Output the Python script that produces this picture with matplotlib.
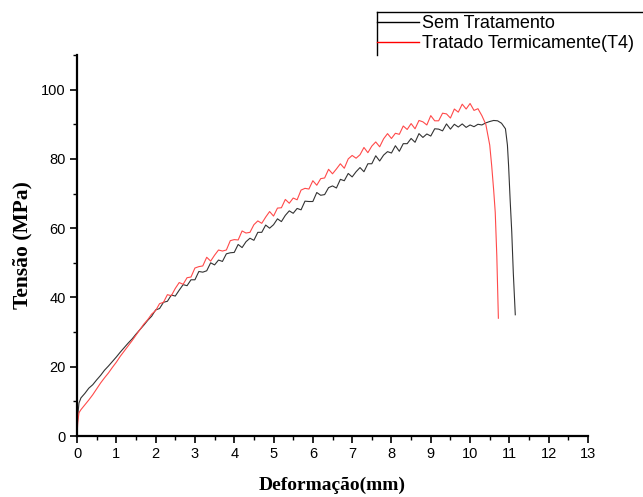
import matplotlib
matplotlib.use("Agg")
import matplotlib.pyplot as plt
from matplotlib.lines import Line2D
from matplotlib.ticker import MultipleLocator

# Sem Tratamento (black)
x_sem = [0, 0.02, 0.05, 0.1, 0.2, 0.3, 0.4, 0.5, 0.6, 0.7, 0.8, 0.9, 1.0, 1.1, 1.2, 1.3, 1.4, 1.5,
         1.6, 1.7, 1.8, 1.9,
         2.0, 2.1, 2.2, 2.3, 2.4, 2.5, 2.6, 2.7, 2.8, 2.9, 3.0, 3.1, 3.2, 3.3, 3.4, 3.5, 3.6, 3.7,
         3.8, 3.9, 4.0, 4.1, 4.2, 4.3, 4.4, 4.5, 4.6, 4.7, 4.8, 4.9, 5.0, 5.1, 5.2, 5.3, 5.4, 5.5,
         5.6, 5.7, 5.8, 5.9, 6.0, 6.1, 6.2, 6.3, 6.4, 6.5, 6.6, 6.7, 6.8, 6.9, 7.0, 7.1, 7.2, 7.3,
         7.4, 7.5, 7.6, 7.7, 7.8, 7.9, 8.0, 8.1, 8.2, 8.3, 8.4, 8.5, 8.6, 8.7, 8.8, 8.9, 9.0, 9.1,
         9.2, 9.3, 9.4, 9.5, 9.6, 9.7, 9.8, 9.9, 10.0, 10.1, 10.2, 10.3, 10.4, 10.5, 10.6, 10.7,
         10.8, 10.9, 10.95, 10.98, 11.02, 11.06, 11.1, 11.15]
y_sem = [0, 6.0, 9.5, 11.0, 12.3, 13.8, 14.8, 16.2, 17.5, 19.0, 20.2, 21.5, 22.8, 24.2, 25.5, 26.8,
         28.0, 29.4, 30.7, 32.0, 33.4, 34.6,
         36.4, 36.8, 38.6, 38.9, 40.7, 40.4, 42.1, 43.7, 43.4, 45.1, 45.1, 47.5, 47.3, 47.7, 50.0,
         49.4, 50.8, 50.4, 52.6, 52.9, 53.0, 55.3, 54.4, 56.1, 57.1, 56.5, 58.8, 58.8, 60.9, 60.0,
         61.0, 62.7, 61.9, 63.7, 65.0, 64.3, 65.7, 65.3, 67.8, 67.7, 67.7, 70.3, 69.5, 69.7, 71.7,
         72.2, 71.6, 74.1, 73.7, 75.8, 74.8, 76.3, 77.5, 76.3, 78.6, 78.6, 80.9, 79.4, 81.1, 82.1,
         81.7, 83.8, 82.2, 84.4, 84.4, 85.9, 84.8, 87.3, 86.2, 87.2, 86.6, 88.7, 88.6, 88.1, 90.1,
         88.6, 90.0, 89.2, 90.1, 89.1, 89.8, 89.3, 90.0, 89.8, 90.4, 90.8, 91.1, 91.0,
         90.3, 88.7, 84.0, 78.0, 68.0, 59.0, 47.0, 35.0]

# Tratado Termicamente (T4) (red)
x_t4 = [0, 0.02, 0.05, 0.1, 0.2, 0.3, 0.4, 0.5, 0.6, 0.7, 0.8, 0.9, 1.0, 1.1, 1.2, 1.3, 1.4, 1.5,
        1.6, 1.7, 1.8, 1.9,
        2.0, 2.1, 2.2, 2.3, 2.4, 2.5, 2.6, 2.7, 2.8, 2.9, 3.0, 3.1, 3.2, 3.3, 3.4, 3.5, 3.6, 3.7,
        3.8, 3.9, 4.0, 4.1, 4.2, 4.3, 4.4, 4.5, 4.6, 4.7, 4.8, 4.9, 5.0, 5.1, 5.2, 5.3, 5.4, 5.5,
        5.6, 5.7, 5.8, 5.9, 6.0, 6.1, 6.2, 6.3, 6.4, 6.5, 6.6, 6.7, 6.8, 6.9, 7.0, 7.1, 7.2, 7.3,
        7.4, 7.5, 7.6, 7.7, 7.8, 7.9, 8.0, 8.1, 8.2, 8.3, 8.4, 8.5, 8.6, 8.7, 8.8, 8.9, 9.0, 9.1,
        9.2, 9.3, 9.4, 9.5, 9.6, 9.7, 9.8, 9.9, 10.0, 10.1, 10.2, 10.3, 10.4, 10.45, 10.5, 10.55,
        10.6, 10.64, 10.68, 10.72]
y_t4 = [0, 4.0, 6.7, 7.6, 9.0, 10.4, 11.9, 13.6, 15.3, 16.8, 18.2, 19.8, 21.3, 23.0, 24.5, 26.0,
        27.5, 29.1, 30.7, 32.3, 33.6, 35.2,
        36.2, 38.2, 38.6, 40.8, 40.5, 42.6, 44.3, 43.8, 45.7, 45.9, 48.5, 48.9, 49.1, 51.6, 50.5,
        52.2, 53.7, 53.4, 53.7, 56.4, 56.7, 56.6, 59.2, 58.6, 58.8, 61.0, 62.1, 61.4, 63.2, 64.8,
        63.5, 65.8, 65.9, 68.3, 67.2, 68.7, 68.2, 71.0, 71.5, 71.3, 73.7, 72.4, 74.3, 74.5, 77.0,
        75.7, 77.1, 78.6, 77.3, 80.0, 81.0, 80.2, 81.2, 83.3, 81.8, 83.7, 84.9, 83.5, 85.8, 87.3,
        85.9, 87.4, 87.1, 89.5, 88.5, 90.2, 88.7, 91.1, 90.7, 89.8, 92.5, 91.0, 91.0, 93.2, 93.0,
        91.8, 94.4, 93.5, 95.8, 94.4, 96.0, 94.0, 94.5, 92.5, 90.0, 87.0, 84.0, 78.0,
        71.0, 64.6, 52.0, 34.0]

W, H = 643, 497
fig = plt.figure(figsize=(W / 100, H / 100), dpi=100)
ax = fig.add_axes([77 / W, 1 - 436 / H, (588 - 77) / W, (436 - 55) / H])

ax.plot(x_sem, y_sem, color='#333333', lw=0.8)
ax.plot(x_t4, y_t4, color='#ff4a4a', lw=0.8)

ax.set_xlim(0, 13)
ax.set_ylim(0, 110)
ax.xaxis.set_major_locator(MultipleLocator(1))
ax.xaxis.set_minor_locator(MultipleLocator(0.5))
ax.yaxis.set_major_locator(MultipleLocator(20))
ax.yaxis.set_minor_locator(MultipleLocator(10))

for s in ['top', 'right']:
    ax.spines[s].set_visible(False)
for s in ['left', 'bottom']:
    ax.spines[s].set_linewidth(1.6)

ax.tick_params(which='major', direction='out', length=5, width=1.2, labelsize=10.5, pad=3)
ax.tick_params(which='minor', direction='out', length=3, width=1.0)
for lab in ax.get_xticklabels() + ax.get_yticklabels():
    lab.set_family('Liberation Sans')

ax.set_xlabel('Deformação(mm)', fontfamily='Liberation Serif', fontweight='bold', fontsize=14, labelpad=11)
ax.set_ylabel('Tensão (MPa)', fontfamily='Liberation Serif', fontweight='bold', fontsize=15.5, labelpad=6)

# legend (box runs off the right edge, no bottom edge visible)
h1 = Line2D([], [], color='black', lw=1)
h2 = Line2D([], [], color='red', lw=1)
leg = fig.legend([h1, h2], ['Sem Tratamento', 'Tratado Termicamente(T4)'],
                 loc='upper left', bbox_to_anchor=(377 / W, 1 - 15 / H),
                 prop={'family': 'Liberation Sans', 'size': 13},
                 frameon=False, borderpad=0, borderaxespad=0, handlelength=2.35,
                 handletextpad=0.15, labelspacing=0.18)
fig.add_artist(Line2D([377 / W, 1.0], [1 - 12 / H, 1 - 12 / H], color='black', lw=1.0))
fig.add_artist(Line2D([377 / W, 377 / W], [1 - 12 / H, 1 - 55 / H], color='black', lw=1.0))

fig.savefig('out.png', dpi=100)
